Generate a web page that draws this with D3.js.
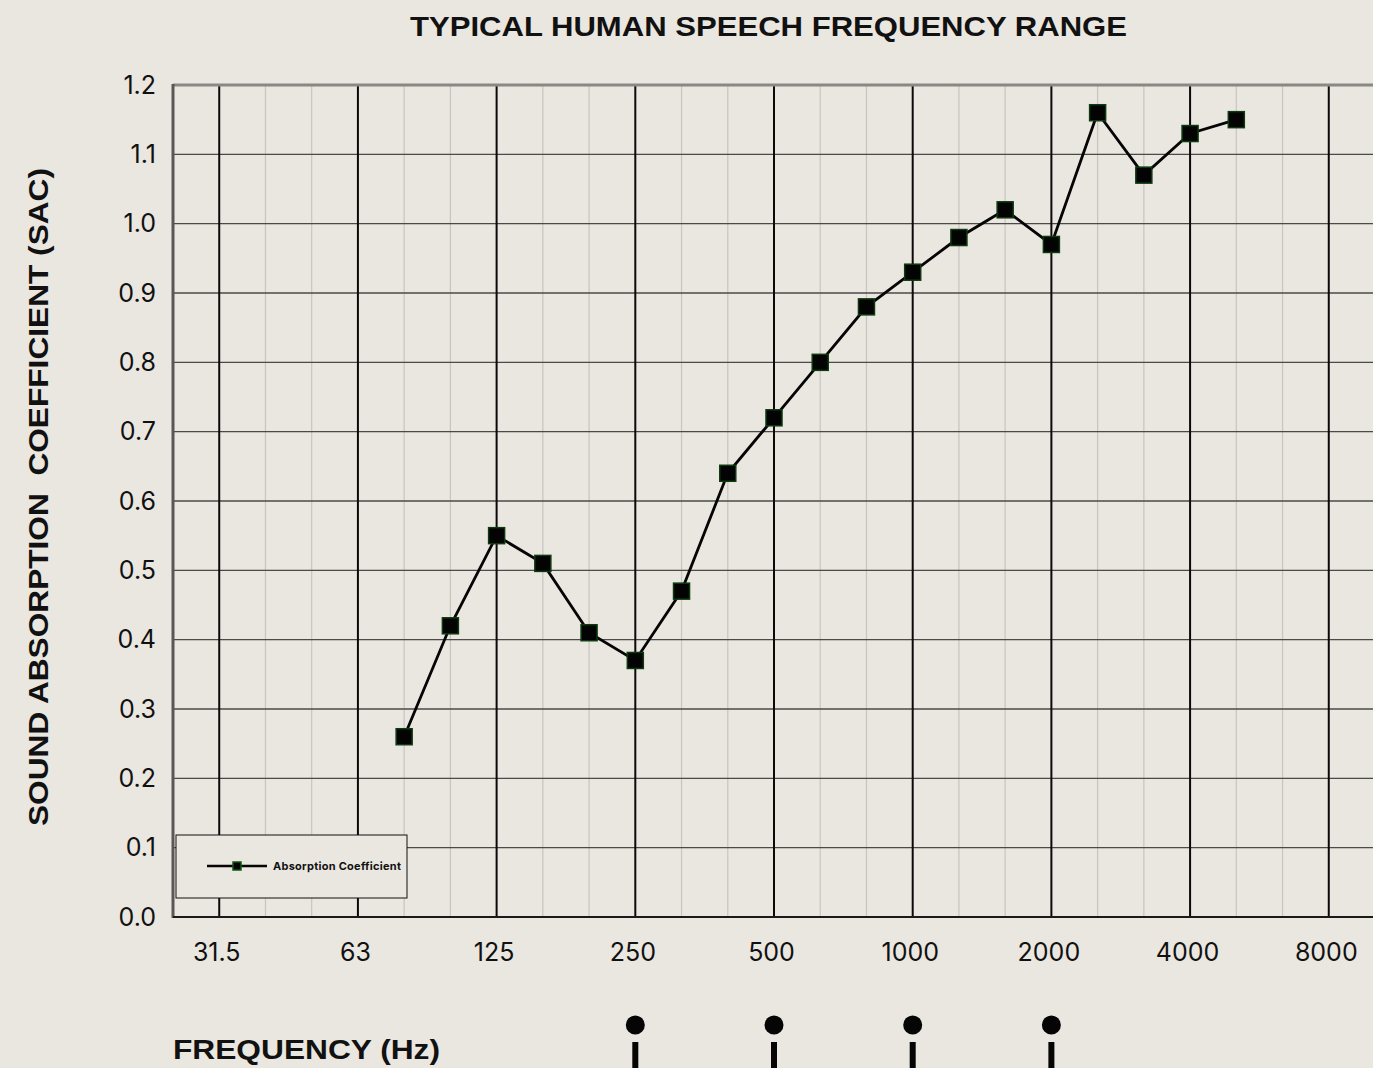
<!DOCTYPE html>
<html>
<head>
<meta charset="utf-8">
<script src="https://cdn.jsdelivr.net/npm/d3@7"></script>
<style>
  html, body { margin: 0; padding: 0; background: #eae6e0; }
  svg { display: block; }
</style>
</head>
<body>
<div id="chart"></div>
<script>
// third-octave bands shown on the axis (25 and 10000 are the plot edges)
var bands = ["25", "31.5", "40", "50", "63", "80", "100", "125", "160", "200", "250", "315", "400",
             "500", "630", "800", "1000", "1250", "1600", "2000", "2500", "3150", "4000",
             "5000", "6300", "8000", "10000"];
var octaveLabels = ["31.5", "63", "125", "250", "500", "1000", "2000", "4000", "8000"];
var yTicks = [0, 0.1, 0.2, 0.3, 0.4, 0.5, 0.6, 0.7, 0.8, 0.9, 1.0, 1.1, 1.2];

// measured sound absorption coefficient
var freqs = ["80", "100", "125", "160", "200", "250", "315", "400", "500", "630",
             "800", "1000", "1250", "1600", "2000", "2500", "3150", "4000", "5000"];
var sac = [0.26, 0.42, 0.55, 0.51, 0.41, 0.37, 0.47, 0.64, 0.72, 0.80,
           0.88, 0.93, 0.98, 1.02, 0.97, 1.16, 1.07, 1.13, 1.15];

// speech range markers under the axis
var speechBands = ["250", "500", "1000", "2000"];

var W = 1373, H = 1068;
var m = { left: 173, right: 1375, top: 85, bottom: 917 };

var svg = d3.select("#chart").append("svg")
  .attr("width", W)
  .attr("height", H);

svg.append("rect")
  .attr("width", W).attr("height", H)
  .attr("fill", "#eae6e0");

var x = d3.scalePoint()
  .domain(bands)
  .range([m.left, m.right]);

var y = d3.scaleLinear()
  .domain([0, 1.2])
  .range([m.bottom, m.top]);

var grid = svg.append("g").attr("class", "grid");

// minor (third-octave) verticals
grid.selectAll(".minor")
  .data(bands.filter(function(b) { return octaveLabels.indexOf(b) < 0 && b != "25" && b != "10000"; }))
  .enter().append("line")
  .attr("class", "minor")
  .attr("x1", function(d) { return x(d); })
  .attr("x2", function(d) { return x(d); })
  .attr("y1", m.top).attr("y2", m.bottom)
  .attr("stroke", "#c8c4bf")
  .attr("stroke-width", 1.2);

// horizontal grid
grid.selectAll(".hline")
  .data(yTicks.slice(1, -1))
  .enter().append("line")
  .attr("class", "hline")
  .attr("x1", m.left).attr("x2", m.right)
  .attr("y1", function(d) { return y(d); })
  .attr("y2", function(d) { return y(d); })
  .attr("stroke", "#4a4a4a")
  .attr("stroke-width", 1.3);

// octave verticals
grid.selectAll(".major")
  .data(octaveLabels)
  .enter().append("line")
  .attr("class", "major")
  .attr("x1", function(d) { return x(d); })
  .attr("x2", function(d) { return x(d); })
  .attr("y1", m.top).attr("y2", m.bottom)
  .attr("stroke", "#0a0a0a")
  .attr("stroke-width", 2);

// frame
svg.append("line")
  .attr("x1", m.left).attr("x2", m.right)
  .attr("y1", y(1.2)).attr("y2", y(1.2))
  .attr("stroke", "#8a8886").attr("stroke-width", 3);
svg.append("line")
  .attr("x1", m.left).attr("x2", m.left)
  .attr("y1", m.top - 1).attr("y2", m.bottom + 1)
  .attr("stroke", "#5a5856").attr("stroke-width", 3);
svg.append("line")
  .attr("x1", m.left).attr("x2", m.right)
  .attr("y1", m.bottom).attr("y2", m.bottom)
  .attr("stroke", "#1a1a1a").attr("stroke-width", 2);

// axes (labels only)
var yAxis = d3.axisLeft(y)
  .tickValues(yTicks)
  .tickFormat(d3.format(".1f"))
  .tickSize(0)
  .tickPadding(17);

var yAxisG = svg.append("g")
  .attr("transform", "translate(" + m.left + ",0)")
  .call(yAxis);
yAxisG.select(".domain").remove();
yAxisG.selectAll("text")
  .style("font-family", "Inter, 'Noto Sans', sans-serif")
  .style("font-size", "25px")
  .attr("fill", "#111");

var xAxis = d3.axisBottom(x)
  .tickValues(octaveLabels)
  .tickSize(0)
  .tickPadding(26);

var xAxisG = svg.append("g")
  .attr("transform", "translate(0," + m.bottom + ")")
  .call(xAxis);
xAxisG.select(".domain").remove();
xAxisG.selectAll("text")
  .style("font-family", "Inter, 'Noto Sans', sans-serif")
  .style("font-size", "25px")
  .attr("dx", "-3")
  .attr("fill", "#111");

// data line
var line = d3.line()
  .x(function(d, i) { return x(freqs[i]); })
  .y(function(d) { return y(d); });

svg.append("path")
  .datum(sac)
  .attr("d", line)
  .attr("fill", "none")
  .attr("stroke", "#050505")
  .attr("stroke-width", 2.8);

var ms = 16;
svg.selectAll(".pt")
  .data(sac)
  .enter().append("rect")
  .attr("class", "pt")
  .attr("x", function(d, i) { return x(freqs[i]) - ms / 2; })
  .attr("y", function(d) { return y(d) - ms / 2; })
  .attr("width", ms).attr("height", ms)
  .attr("fill", "#030303")
  .attr("stroke", "#0d3a0f")
  .attr("stroke-width", 1.5);

// legend
var lg = svg.append("g").attr("transform", "translate(176,835)");
lg.append("rect")
  .attr("width", 231).attr("height", 63)
  .attr("fill", "#eae6e0")
  .attr("stroke", "#111")
  .attr("stroke-width", 1);
lg.append("line")
  .attr("x1", 31).attr("x2", 91)
  .attr("y1", 31).attr("y2", 31)
  .attr("stroke", "#050505").attr("stroke-width", 2.5);
lg.append("rect")
  .attr("x", 57).attr("y", 27)
  .attr("width", 8).attr("height", 8)
  .attr("fill", "#030303")
  .attr("stroke", "#0d5a10").attr("stroke-width", 1.5);
lg.append("text")
  .attr("x", 97).attr("y", 35)
  .attr("textLength", 128)
  .style("font-family", "Inter, 'Noto Sans', sans-serif")
  .style("font-size", "11px")
  .style("font-weight", "bold")
  .attr("fill", "#111")
  .text("Absorption Coefficient");

// titles
svg.append("text")
  .attr("x", 410).attr("y", 36)
  .attr("textLength", 717)
  .attr("lengthAdjust", "spacingAndGlyphs")
  .style("font-family", "'Liberation Sans', Arial, sans-serif")
  .style("font-size", "28px")
  .style("font-weight", "bold")
  .attr("fill", "#111")
  .text("TYPICAL HUMAN SPEECH FREQUENCY RANGE");

svg.append("text")
  .attr("transform", "translate(48,826) rotate(-90)")
  .attr("textLength", 658)
  .attr("lengthAdjust", "spacingAndGlyphs")
  .attr("xml:space", "preserve")
  .style("font-family", "'Liberation Sans', Arial, sans-serif")
  .style("font-size", "28px")
  .style("font-weight", "bold")
  .style("white-space", "pre")
  .attr("fill", "#111")
  .text("SOUND ABSORPTION  COEFFICIENT (SAC)");

svg.append("text")
  .attr("x", 173).attr("y", 1059)
  .attr("textLength", 267)
  .attr("lengthAdjust", "spacingAndGlyphs")
  .style("font-family", "'Liberation Sans', Arial, sans-serif")
  .style("font-size", "28px")
  .style("font-weight", "bold")
  .attr("fill", "#111")
  .text("FREQUENCY (Hz)");

// speech range pins
var pins = svg.selectAll(".pin")
  .data(speechBands)
  .enter().append("g")
  .attr("class", "pin")
  .attr("transform", function(d) { return "translate(" + x(d) + ",0)"; });
pins.append("circle")
  .attr("cy", 1025).attr("r", 9.5)
  .attr("fill", "#050505");
pins.append("rect")
  .attr("x", -3).attr("y", 1042)
  .attr("width", 6).attr("height", 30)
  .attr("fill", "#050505");
</script>
</body>
</html>
